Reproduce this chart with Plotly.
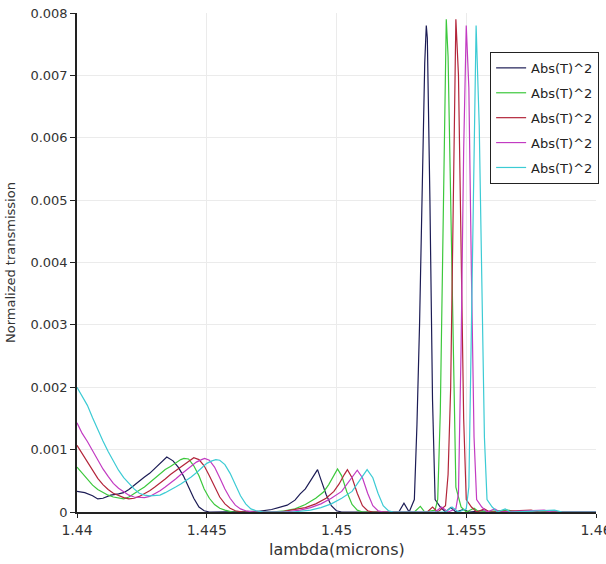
import plotly.graph_objects as go

# ---- data ----
lam_1 = [1.4400, 1.4403, 1.4406, 1.4408, 1.4410, 1.4413, 1.4416, 1.4418, 1.4420, 1.4422, 1.4424, 1.4426,
         1.4428, 1.4430, 1.4432, 1.4434, 1.44346, 1.4437, 1.4439, 1.4441, 1.4443, 1.4445, 1.4447, 1.4449,
         1.4451, 1.4460, 1.4470, 1.4475, 1.4478, 1.4481, 1.4484, 1.4486, 1.4488, 1.4490, 1.4492, 1.44927,
         1.4494, 1.4496, 1.4498, 1.4500, 1.4502, 1.4524, 1.4526, 1.4528, 1.4530, 1.4531, 1.4532, 1.4533,
         1.4534, 1.45346, 1.4535, 1.4536, 1.4537, 1.4538, 1.4540, 1.4542, 1.4544, 1.4546, 1.4549,
         1.4551, 1.4556, 1.4560, 1.4600]
t_1 = [0.00033, 0.00031, 0.00026, 0.00021, 0.00022, 0.00027, 0.00029, 0.00031, 0.00036, 0.00043, 0.00050, 0.00056,
       0.00062, 0.00070, 0.00078, 0.00086, 0.00088, 0.00082, 0.00072, 0.00058, 0.00041, 0.00022, 0.00008, 0.00002,
       0.0, 0.0, 0.00001, 0.00004, 0.00007, 0.00011, 0.00019, 0.00029, 0.00037, 0.00050, 0.00064, 0.00068,
       0.00052, 0.00028, 0.00010, 0.00002, 0.0, 0.0, 0.00014, 0.0, 0.0002, 0.0014, 0.0030, 0.0052,
       0.0072, 0.0078, 0.0076, 0.0050, 0.0018, 0.0002, 0.00008, 0.0, 0.00007, 0.0, 0.00004,
       0.0, 0.00002, 0.0, 0.0]

lam_2 = [1.4400, 1.4402, 1.4404, 1.4406, 1.4408, 1.4410, 1.4412, 1.4414, 1.4416, 1.4418, 1.4420, 1.4422,
         1.4424, 1.4426, 1.4428, 1.4430, 1.4432, 1.4434, 1.4436, 1.4438, 1.4440, 1.44412, 1.4443, 1.4445,
         1.4447, 1.4449, 1.4451, 1.4453, 1.4455, 1.4457, 1.4460, 1.4475, 1.4480, 1.4484, 1.4488, 1.4492,
         1.4495, 1.4497, 1.4499, 1.45004, 1.4502, 1.4504, 1.4506, 1.4508, 1.4510, 1.4530, 1.45323, 1.4534,
         1.4538, 1.4539, 1.4540, 1.4541, 1.4542, 1.45423, 1.4543, 1.4544, 1.4545, 1.4546, 1.4548, 1.4550,
         1.4553, 1.4555, 1.4566, 1.4570, 1.4600]
t_2 = [0.00072, 0.00062, 0.00052, 0.00043, 0.00036, 0.00031, 0.00027, 0.00024, 0.00022, 0.00021, 0.00024, 0.00030,
       0.00035, 0.00040, 0.00047, 0.00055, 0.00062, 0.00068, 0.00073, 0.00079, 0.00084, 0.00086, 0.00085, 0.00074,
       0.00058, 0.00037, 0.00022, 0.00012, 0.00006, 0.00003, 0.0, 0.0, 0.00002, 0.00005, 0.00012, 0.00022,
       0.00032, 0.00044, 0.00060, 0.00069, 0.00058, 0.00032, 0.00012, 0.00003, 0.0, 0.0, 0.00009, 0.0,
       0.00003, 0.0002, 0.0016, 0.0042, 0.0070, 0.0079, 0.0073, 0.0050, 0.0022, 0.0004, 0.00008, 0.0,
       0.00006, 0.0, 0.00003, 0.0, 0.0]

lam_3 = [1.4400, 1.4402, 1.4404, 1.4406, 1.4408, 1.4410, 1.4412, 1.4414, 1.4416, 1.4418, 1.4420, 1.4422,
         1.4424, 1.4426, 1.4428, 1.4430, 1.4432, 1.4434, 1.4436, 1.4438, 1.4440, 1.4442, 1.4444, 1.4445,
         1.4447, 1.4449, 1.4451, 1.4453, 1.4455, 1.4457, 1.4459, 1.4461, 1.4464, 1.4478, 1.4483, 1.4488,
         1.4492, 1.4496, 1.4499, 1.4501, 1.4503, 1.45042, 1.4506, 1.4508, 1.4510, 1.4512, 1.4514, 1.4535,
         1.4537, 1.4539, 1.4542, 1.4543, 1.4544, 1.4545, 1.4546, 1.4547, 1.4548, 1.4549, 1.4550, 1.4552,
         1.4554, 1.4557, 1.4559, 1.4575, 1.4578, 1.4600]
t_3 = [0.00107, 0.00094, 0.00080, 0.00066, 0.00054, 0.00044, 0.00036, 0.00030, 0.00026, 0.00023, 0.00021, 0.00022,
       0.00025, 0.00029, 0.00034, 0.00040, 0.00046, 0.00053, 0.00060, 0.00066, 0.00072, 0.00078, 0.00084, 0.00087,
       0.00084, 0.00074, 0.00058, 0.00040, 0.00024, 0.00013, 0.00006, 0.00002, 0.0, 0.0, 0.00003, 0.00007,
       0.00013, 0.00022, 0.00033, 0.00045, 0.00060, 0.00068, 0.00055, 0.00030, 0.00010, 0.00002, 0.0, 0.0,
       0.00008, 0.0, 0.0001, 0.0006, 0.0020, 0.0046, 0.0079, 0.0070, 0.0042, 0.0015, 0.0002, 0.00008,
       0.0, 0.00005, 0.0, 0.00003, 0.0, 0.0]

lam_4 = [1.4400, 1.4402, 1.4404, 1.4406, 1.4408, 1.4410, 1.4412, 1.4414, 1.4416, 1.4418, 1.4420, 1.4422,
         1.4424, 1.4426, 1.4428, 1.4430, 1.4432, 1.4434, 1.4436, 1.4438, 1.4440, 1.4442, 1.4444, 1.4446,
         1.4448, 1.44492, 1.4451, 1.4453, 1.4455, 1.4457, 1.4459, 1.4461, 1.4463, 1.4465, 1.4468, 1.4480,
         1.4486, 1.4490, 1.4494, 1.4498, 1.4502, 1.4504, 1.4506, 1.4508, 1.4510, 1.4512, 1.4514, 1.4516,
         1.4518, 1.4538, 1.45405, 1.4543, 1.4546, 1.4547, 1.4548, 1.4549, 1.4550, 1.4551, 1.4552, 1.4553,
         1.4554, 1.4556, 1.4558, 1.4561, 1.4563, 1.4580, 1.4583, 1.4600]
t_4 = [0.00143, 0.00126, 0.00113, 0.00098, 0.00083, 0.00069, 0.00057, 0.00046, 0.00038, 0.00032, 0.00027, 0.00024,
       0.00023, 0.00023, 0.00025, 0.00029, 0.00034, 0.00040, 0.00046, 0.00053, 0.00060, 0.00067, 0.00074, 0.00080,
       0.00084, 0.00086, 0.00083, 0.00072, 0.00055, 0.00037, 0.00022, 0.00011, 0.00005, 0.00002, 0.0, 0.0,
       0.00003, 0.00007, 0.00013, 0.00022, 0.00033, 0.00044, 0.00056, 0.00067, 0.00055, 0.00030, 0.00010, 0.00002,
       0.0, 0.0, 0.00008, 0.0, 0.00005, 0.0003, 0.0026, 0.0058, 0.0078, 0.0068, 0.0038, 0.0012,
       0.0002, 0.00008, 0.0, 0.00005, 0.0, 0.00003, 0.0, 0.0]

lam_5 = [1.4400, 1.4402, 1.4404, 1.4406, 1.4408, 1.4410, 1.4412, 1.4414, 1.4416, 1.4418, 1.4420, 1.4422,
         1.4424, 1.4426, 1.4428, 1.4430, 1.4432, 1.4434, 1.4436, 1.4438, 1.4440, 1.4442, 1.4444, 1.4446,
         1.4448, 1.4450, 1.4452, 1.44535, 1.4455, 1.4457, 1.4459, 1.4461, 1.4463, 1.4465, 1.4467, 1.4469,
         1.4472, 1.4483, 1.4490, 1.4494, 1.4498, 1.4502, 1.4506, 1.4508, 1.4510, 1.45118, 1.4514, 1.4516,
         1.4518, 1.4520, 1.4522, 1.4542, 1.45445, 1.4547, 1.4550, 1.4551, 1.4552, 1.4553, 1.45538, 1.4555,
         1.4556, 1.4557, 1.4558, 1.4560, 1.4562, 1.4565, 1.4567, 1.4584, 1.4587, 1.4600]
t_5 = [0.00200, 0.00185, 0.00171, 0.00151, 0.00131, 0.00114, 0.00097, 0.00082, 0.00067, 0.00055, 0.00046, 0.00037,
       0.00030, 0.00027, 0.00026, 0.00026, 0.00027, 0.00031, 0.00035, 0.00040, 0.00045, 0.00050, 0.00056, 0.00063,
       0.00071, 0.00078, 0.00082, 0.00084, 0.00083, 0.00076, 0.00062, 0.00043, 0.00026, 0.00013, 0.00005, 0.00002,
       0.0, 0.0, 0.00003, 0.00007, 0.00013, 0.00022, 0.00033, 0.00045, 0.00057, 0.00068, 0.00055, 0.00030,
       0.00010, 0.00002, 0.0, 0.0, 0.00008, 0.0, 0.00005, 0.0004, 0.0030, 0.0060, 0.0078, 0.0062,
       0.0036, 0.0012, 0.0002, 0.00008, 0.0, 0.00005, 0.0, 0.00003, 0.0, 0.0]

series_names = ["Abs(T)^2"] * 5
series_lam = [lam_1, lam_2, lam_3, lam_4, lam_5]
series_t = [t_1, t_2, t_3, t_4, t_5]
colors = ["#1c1c55", "#3cc83c", "#b3253a", "#c23bc2", "#3ccbd4"]

x_ticks = [1.44, 1.445, 1.45, 1.455, 1.46]
x_tick_text = ["1.44", "1.445", "1.45", "1.455", "1.46"]
y_ticks = [0, 0.001, 0.002, 0.003, 0.004, 0.005, 0.006, 0.007, 0.008]
y_tick_text = ["0", "0.001", "0.002", "0.003", "0.004", "0.005", "0.006", "0.007", "0.008"]

fig = go.Figure()
for i, (nm, xs, ys, c) in enumerate(zip(series_names, series_lam, series_t, colors)):
    fig.add_trace(go.Scatter(x=xs, y=ys, mode="lines", name=nm, legendgroup=f"g{i}",
                             line=dict(color=c, width=1.2)))

font_family = "DejaVu Sans"
fig.update_layout(
    width=606, height=564,
    margin=dict(l=77, r=10, t=13, b=52, autoexpand=False),
    paper_bgcolor="white", plot_bgcolor="white",
    font=dict(family=font_family, color="#333333", size=12),
    showlegend=True,
    legend=dict(x=0.796, y=0.922, xanchor="left", yanchor="top",
                bgcolor="white", bordercolor="#222222", borderwidth=1,
                font=dict(size=13, color="#222222", family=font_family),
                tracegroupgap=5, traceorder="grouped", itemwidth=30),
    xaxis=dict(range=[1.44, 1.46], tickmode="array", tickvals=x_ticks, ticktext=x_tick_text,
               showgrid=True, gridcolor="#ebebeb", gridwidth=1, zeroline=False, automargin=False,
               showline=True, linecolor="#222222", linewidth=1.5, ticklabeloverflow="allow",
               ticks="outside", ticklen=4, tickcolor="#222222",
               tickfont=dict(size=14, color="#333333")),
    yaxis=dict(range=[0, 0.008], tickmode="array", tickvals=y_ticks, ticktext=y_tick_text,
               showgrid=True, gridcolor="#ebebeb", gridwidth=1, zeroline=False, automargin=False,
               showline=True, linecolor="#222222", linewidth=1.5, ticklabeloverflow="allow",
               ticks="outside", ticklen=5, tickcolor="#222222",
               tickfont=dict(size=13, color="#333333")),
    annotations=[
        dict(text="lambda(microns)", xref="paper", yref="paper", x=0.5, y=0, yanchor="top",
             yshift=-26, showarrow=False, font=dict(size=16, color="#333333", family=font_family)),
        dict(text="Normalized transmission", xref="paper", yref="paper", x=0, y=0.5, xanchor="right",
             xshift=-57, textangle=-90, showarrow=False,
             font=dict(size=13, color="#333333", family=font_family)),
    ],
)

# remove the browser's default 8px body margin so the figure fills the window exactly
fig.write_html("out.html", config={"displayModeBar": False},
               post_script="document.body.style.margin='0';document.body.style.overflow='hidden';")
